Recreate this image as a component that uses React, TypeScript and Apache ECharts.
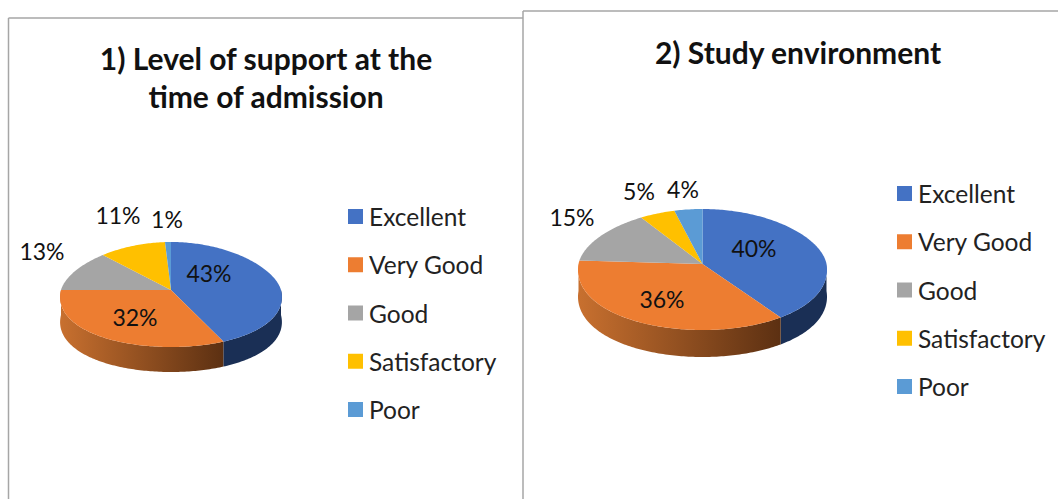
import React, { useEffect, useRef } from "react";
import * as echarts from "echarts";

const categories = ["Excellent", "Very Good", "Good", "Satisfactory", "Poor"];
const supportValues = [43, 32, 13, 11, 1];
const environmentValues = [40, 36, 15, 5, 4];
const colors = ["#4472C4", "#ED7D31", "#A5A5A5", "#FFC000", "#5B9BD5"];
const sideColors = ["#1A2F55", "", "#6E6E6E", "#A67C00", "#2E6DA4"];
const FONT = "Lato, Carlito, Calibri, sans-serif";

const pies = [
  { values: supportValues, cx: 171, cy: 290, rx: 110, ryTop: 48, ryBottom: 57, depth: 25, skew: 0.13,
    labels: [[209, 273], [135, 317], [42, 251], [118, 215], [167, 219]] },
  { values: environmentValues, cx: 702.5, cy: 264, rx: 124, ryTop: 55, ryBottom: 66, depth: 27, skew: 0.09,
    labels: [[754, 248], [662, 299], [572, 217], [639, 191], [683, 189]] },
];

function makeSeries(pie: any, pieIndex: number) {
  const total = pie.values.reduce((a: number, b: number) => a + b, 0);
  const point = (turn: number, dy = 0) => {
    const a = turn * Math.PI * 2;
    const v = Math.cos(a);
    return [
      pie.cx + pie.rx * Math.sin(a) * (1 - pie.skew * v),
      pie.cy - v * (v > 0 ? pie.ryTop : pie.ryBottom) + dy,
    ];
  };
  const arc = (s: number, e: number, dy = 0) => {
    const n = Math.max(2, Math.ceil((e - s) * 360));
    const out: number[][] = [];
    for (let i = 0; i <= n; i++) out.push(point(s + ((e - s) * i) / n, dy));
    return out;
  };
  let acc = 0;
  return pie.values.map((value: number, i: number) => {
    const start = acc / total;
    acc += value;
    const end = acc / total;
    return {
      type: "custom",
      name: categories[i],
      coordinateSystem: "none",
      itemStyle: { color: colors[i] },
      silent: true,
      data: [value],
      renderItem: () => {
        const children: any[] = [];
        const sStart = Math.max(start, 0.25);
        const sEnd = Math.min(end, 0.75);
        if (sEnd > sStart) {
          const top = arc(sStart, sEnd);
          const bottom = arc(sStart, sEnd, pie.depth).reverse();
          const fill = i === 1
            ? new echarts.graphic.LinearGradient(0, 0, 1, 0, [
                { offset: 0, color: "#C8702F" },
                { offset: 1, color: "#5C3012" },
              ])
            : sideColors[i];
          children.push({ type: "polygon", shape: { points: top.concat(bottom) }, style: { fill } });
        }
        children.push({
          type: "polygon",
          shape: { points: [[pie.cx, pie.cy], ...arc(start, end)] },
          style: { fill: colors[i] },
        });
        const [lx, ly] = pie.labels[i];
        children.push({
          type: "text",
          z2: 10,
          style: {
            x: lx, y: ly, text: `${value}%`, fill: "#111",
            font: `23px ${FONT}`, align: "center", verticalAlign: "middle",
          },
        });
        return { type: "group", children };
      },
    };
  });
}

const legendBase = {
  orient: "vertical",
  icon: "rect",
  padding: 0,
  itemWidth: 15,
  itemHeight: 15,
  itemGap: 23.25,
  selectedMode: false,
  data: categories,
  textStyle: { fontFamily: FONT, fontSize: 24.5, color: "#222", padding: [0, 0, 0, 1] },
};

const line = (x1: number, y1: number, x2: number, y2: number) => ({
  type: "line",
  shape: { x1, y1, x2, y2 },
  style: { stroke: "#A6A6A6", lineWidth: 1.5 },
});
const title = (text: string, x: number, y: number) => ({
  type: "text",
  style: { x, y, text, fill: "#111", font: `bold 30px ${FONT}`, align: "center", verticalAlign: "middle" },
});

export default function App() {
  const ref = useRef<HTMLDivElement>(null);
  useEffect(() => {
    const chart = echarts.init(ref.current!, null, { renderer: "svg" });
    chart.setOption({
      animation: false,
      backgroundColor: "#fff",
      legend: [
        { ...legendBase, left: 348, top: 204 },
        { ...legendBase, left: 897, top: 181 },
      ],
      graphic: [
        line(8.5, 18, 8.5, 499),
        line(8.5, 18, 523, 18),
        line(523, 11, 523, 499),
        line(523, 11, 1058, 11),
        title("1) Level of support at the", 266, 58),
        title("time of admission", 266, 96),
        title("2) Study environment", 798, 51.5),
      ],
      series: pies.flatMap(makeSeries),
    });
    return () => chart.dispose();
  }, []);
  return <div ref={ref} style={{ position: "fixed", left: 0, top: 0, width: 1058, height: 499 }} />;
}
